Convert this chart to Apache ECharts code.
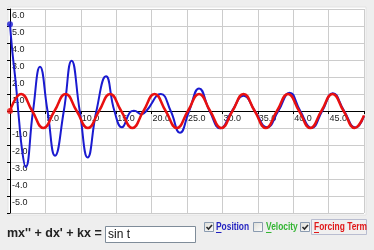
<!DOCTYPE html>
<html>
<head>
<meta charset="utf-8">
<script src="https://cdn.jsdelivr.net/npm/echarts@6/dist/echarts.min.js"></script>
<style>
html,body{margin:0;padding:0;background:#eeeeee;}
#chart{width:374px;height:250px;}
</style>
</head>
<body>
<div id="chart"></div>
<script>
// Position (blue)
const positionT = [0, 0.33, 0.85, 1.27, 1.74, 2.2, 3.25, 4.24, 5.3, 6.36, 7.6, 8.7, 9.85, 10.97, 12.2, 13.56, 14.75, 15.8, 17.0, 17.5, 18.6, 19.25, 21.3, 22.7, 24.0, 25.3, 26.7, 28.2, 29.7, 31.35, 33.0, 34.6, 36.3, 37.9, 39.5, 41.0, 42.6, 44.1, 45.6, 47.2, 48.8, 50];
const positionY = [5.1, 3.5, 1.5, -0.5, -2.4, -3.3, 0, 2.6, 0, -2.63, 0, 2.96, 0, -2.73, 0, 2.04, 0, -0.96, -0.05, 0.02, -0.18, 0, 1.0, 0, -1.28, 0, 1.33, 0, -1.02, 0, 0.9, 0, -0.96, 0, 1.08, 0, -1.0, 0, 1.05, 0, -0.97, -0.3];
// Forcing term (red)
const forcingT = [0, 1.57, 3.14, 4.71, 6.28, 7.85, 9.42, 11.0, 12.57, 14.14, 15.71, 17.28, 18.85, 20.42, 21.99, 23.56, 25.13, 26.7, 28.27, 29.85, 31.42, 32.99, 34.56, 36.13, 37.7, 39.27, 40.84, 42.41, 43.98, 45.55, 47.12, 48.69, 50];
const forcingY = [0, 1, 0, -1, 0, 1, 0, -1, 0, 1, 0, -1, 0, 1, 0, -1, 0, 1, 0, -1, 0, 1, 0, -1, 0, 1, 0, -1, 0, 1, 0, -1, -0.26];
// Axis tick labels
const xTickLabels = ['5.0', '10.0', '15.0', '20.0', '25.0', '30.0', '35.0', '40.0', '45.0'];
const yTickLabels = ['6.0', '5.0', '4.0', '3.0', '2.0', '1.0', '-1.0', '-2.0', '-3.0', '-4.0', '-5.0'];

const chart = echarts.init(document.getElementById('chart'), null, {renderer: 'canvas'});
const fmt = v => v.toFixed(1);
const labelFont = 'Liberation Sans, Arial, sans-serif';
const gridTop = 9, gridBottom = 37, chartH = 250;
const yMin = -6, yMax = 6;
// x axis sits on y = 0: shift it up from the grid bottom by the scale's zero position
const zeroOffset = -((chartH - gridTop - gridBottom) * (0 - yMin) / (yMax - yMin));

function checkbox(x, y, checked) {
  const els = [{
    type: 'rect', shape: {x: x, y: y, width: 9, height: 9},
    style: {fill: new echarts.graphic.LinearGradient(0, 0, 1, 1, [{offset: 0, color: '#dcdcd6'}, {offset: 1, color: '#ffffff'}]), stroke: '#8a9bb0', lineWidth: 1}
  }];
  if (checked) {
    els.push({type: 'polyline', shape: {points: [[x + 2, y + 4.5], [x + 4, y + 6.5], [x + 7.5, y + 2.5]]}, style: {stroke: '#2a2a2a', lineWidth: 1.6, fill: null}});
  }
  return els;
}

const graphics = [
  {type: 'rect', z: -10, shape: {x: 8, y: 7, width: 358, height: 208}, style: {fill: '#ffffff', stroke: '#e2e2e2', lineWidth: 1}},
  {type: 'text', x: 7, y: 234, style: {text: "mx'' + dx' + kx =", font: 'bold 12.5px Liberation Sans, Arial, sans-serif', fill: '#222', verticalAlign: 'middle'}},
  {type: 'rect', shape: {x: 105.5, y: 226.5, width: 90, height: 16}, style: {fill: '#ffffff', stroke: '#7f8c99', lineWidth: 1}},
  {type: 'text', x: 108, y: 235, style: {text: 'sin t', font: '12px Liberation Sans, Arial, sans-serif', fill: '#111', verticalAlign: 'middle'}},
  ...checkbox(204.5, 222.5, true),
  {type: 'text', x: 216, y: 227, scaleX: 0.84, style: {text: 'Position', font: 'bold 10px Liberation Sans, Arial, sans-serif', fill: '#1f1fc0', verticalAlign: 'middle'}},
  {type: 'line', shape: {x1: 216, y1: 232.5, x2: 221.5, y2: 232.5}, style: {stroke: '#1f1fc0', lineWidth: 1}},
  ...checkbox(253.5, 222.5, false),
  {type: 'text', x: 266, y: 227, scaleX: 0.84, style: {text: 'Velocity', font: 'bold 10px Liberation Sans, Arial, sans-serif', fill: '#33b533', verticalAlign: 'middle'}},
  {type: 'line', shape: {x1: 266, y1: 232.5, x2: 271.5, y2: 232.5}, style: {stroke: '#33b533', lineWidth: 1}},
  ...checkbox(300.5, 222.5, true),
  {type: 'rect', shape: {x: 311.5, y: 219.5, width: 55, height: 15}, style: {fill: '#f0f0f0', stroke: '#b9bdd0', lineWidth: 1}},
  {type: 'text', x: 314, y: 227, scaleX: 0.84, style: {text: 'Forcing Term', font: 'bold 10px Liberation Sans, Arial, sans-serif', fill: '#e01818', verticalAlign: 'middle'}},
  {type: 'line', shape: {x1: 314, y1: 232.5, x2: 319, y2: 232.5}, style: {stroke: '#e01818', lineWidth: 1}}
];

chart.setOption({
  animation: false,
  backgroundColor: '#eeeeee',
  grid: {left: 10, right: 10, top: gridTop, bottom: gridBottom, show: false, containLabel: false},
  xAxis: [{
    type: 'value', min: 0, max: 50, interval: 5,
    axisLine: {show: false},
    axisTick: {show: false},
    axisLabel: {show: false},
    splitLine: {show: true, lineStyle: {color: '#cccccc', width: 1}}
  }, {
    type: 'value', min: 0, max: 50, interval: 5, position: 'bottom', offset: zeroOffset,
    axisLine: {show: true, onZero: false, lineStyle: {color: '#000', width: 1}},
    axisTick: {show: true, length: 3, lineStyle: {color: '#000'}},
    splitLine: {show: false},
    axisLabel: {
      show: true, margin: 2, align: 'left', verticalAlign: 'top', padding: [1, 0, 0, 1],
      fontSize: 9, fontFamily: labelFont, color: '#222',
      formatter: v => { const s = fmt(v); return xTickLabels.indexOf(s) >= 0 ? s : ''; }
    }
  }],
  yAxis: {
    type: 'value', min: yMin, max: yMax, interval: 1,
    axisLine: {show: true, onZero: false, lineStyle: {color: '#000', width: 1}},
    axisTick: {show: true, length: 3, lineStyle: {color: '#000'}},
    splitLine: {show: true, lineStyle: {color: '#cccccc', width: 1}},
    axisLabel: {
      show: true, inside: true, margin: 2, align: 'left', verticalAlign: 'top', padding: [2, 0, 0, 0],
      fontSize: 9, fontFamily: labelFont, color: '#222',
      formatter: v => { const s = fmt(v); return yTickLabels.indexOf(s) >= 0 ? s : ''; }
    }
  },
  graphic: graphics,
  series: [
    {
      type: 'line', name: 'Position', smooth: 0.5, showSymbol: false, xAxisIndex: 0,
      data: positionT.map((t, i) => [t, positionY[i]]),
      lineStyle: {color: '#1a1ad0', width: 2}, z: 3
    },
    {
      type: 'line', name: 'Forcing Term', smooth: 0.5, showSymbol: false, xAxisIndex: 0,
      data: forcingT.map((t, i) => [t, forcingY[i]]),
      lineStyle: {color: '#e81010', width: 2.5}, z: 4
    },
    {
      type: 'scatter', clip: false, symbolSize: 6, z: 5, xAxisIndex: 0,
      data: [
        {value: [positionT[0], positionY[0]], itemStyle: {color: '#1a1ad0'}},
        {value: [forcingT[0], forcingY[0]], itemStyle: {color: '#e81010'}}
      ]
    }
  ]
});
</script>
</body>
</html>
